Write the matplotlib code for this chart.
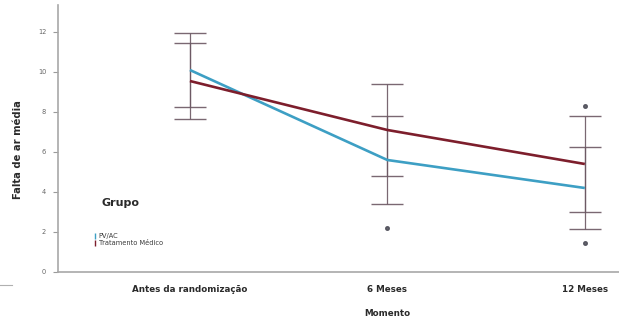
import matplotlib.pyplot as plt
from matplotlib.lines import Line2D
import numpy as np

momentos = ["Antes da randomização", "6 Meses", "12 Meses"]
grupos = ["PV/AC", "Tratamento Médico"]

# mean shortness-of-breath score and 95% CI half-width per group
media_pvac = [10.1, 5.6, 4.2]
ic_pvac = [1.85, 2.2, 2.05]
media_trat = [9.55, 7.1, 5.4]
ic_trat = [1.88, 2.28, 2.42]

# individual outlying observations (moment index, value)
outlier_idx = [1, 2, 2]
outlier_val = [2.2, 1.45, 8.3]

cor_pvac = "#3d9fc4"
cor_trat = "#7d1e2c"
cor_barra = "#6c5863"
fonte = ["Liberation Sans Narrow", "DejaVu Sans"]

fig = plt.figure(figsize=(6.19, 3.27), dpi=100)
W, H = 619, 327
ax = fig.add_axes([58 / W, (H - 272) / H, (W - 58) / W, (272 - 5) / H])

x = np.arange(len(momentos))
for medias, ics, cor in [(media_pvac, ic_pvac, cor_pvac), (media_trat, ic_trat, cor_trat)]:
    ax.errorbar(x, medias, yerr=ics, fmt="none", ecolor=cor_barra, elinewidth=0.9,
                capsize=11.5, capthick=1.0, alpha=0.9, zorder=2)
    ax.plot(x, medias, color=cor, linewidth=1.9, solid_capstyle="butt", zorder=3)

ax.plot(outlier_idx, outlier_val, ls="none", marker="o", markersize=2.6,
        color="#4a4a55", alpha=0.85, zorder=4)

ax.set_xlim(-0.668, 2.173)
ax.set_ylim(0, 13.35)
ax.set_yticks(range(0, 13, 2))
ax.set_xticks(x)
ax.set_xticklabels(momentos, fontsize=6.3, fontweight="bold", color="#2a2a2a", family=fonte)
ax.tick_params(axis="x", length=0, pad=9)
ax.tick_params(axis="y", length=3.5, width=0.8, color="#9a9a9a", labelsize=4.8,
               labelcolor="#666666", pad=5)

for s in ["top", "right"]:
    ax.spines[s].set_visible(False)
for s in ["left", "bottom"]:
    ax.spines[s].set_color("#a8a8a8")
    ax.spines[s].set_linewidth(1.2)

fig.text(18 / W, 1 - 150 / H, "Falta de ar média", rotation=90, ha="center", va="center",
         fontsize=7.2, fontweight="bold", color="#2a2a2a", family=fonte)
fig.text(387 / W, 1 - 313 / H, "Momento", ha="center", va="center",
         fontsize=6.3, fontweight="bold", color="#2a2a2a", family=fonte)

fig.text(101 / W, 1 - 203 / H, "Grupo", ha="left", va="center",
         fontsize=8, fontweight="bold", color="#2a2a2a")

handles = [Line2D([], [], ls="none", marker=r"$\mathrm{I}$", markersize=4, color=c)
           for c in (cor_pvac, cor_trat)]
fig.legend(handles, grupos, loc="upper left", bbox_to_anchor=(90 / W, 1 - 230 / H),
           frameon=False, handlelength=0.5, handletextpad=0.3, labelspacing=0.15,
           borderpad=0, labelcolor="#3a3a3a", prop={"family": fonte, "size": 4.8})

# short stray rule at the left edge
fig.add_artist(Line2D([0, 12 / W], [1 - 285 / H, 1 - 285 / H], color="#b0b0b0", linewidth=0.8))

fig.savefig("out.png", dpi=100)
